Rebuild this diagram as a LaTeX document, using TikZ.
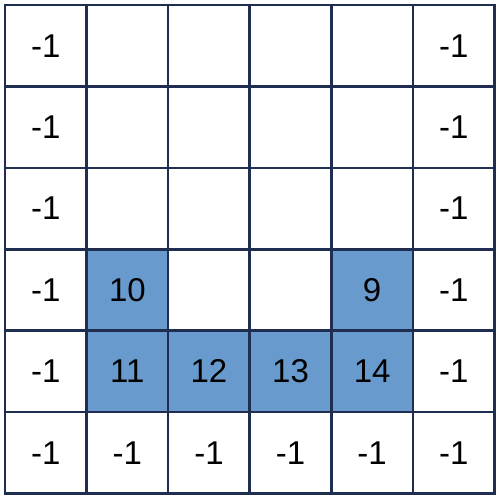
\documentclass[tikz,border=0pt]{standalone}
\usepackage{fontspec}
\setmainfont{Liberation Sans}
\definecolor{gridline}{RGB}{31,45,80}
\definecolor{cellblue}{RGB}{104,154,206}
\tikzset{
  cell/.style={draw=gridline, line width=2.6pt, rectangle, inner sep=0pt, outer sep=0pt,
    minimum width=81.58pt, minimum height=81.42pt, fill=white,
    font=\fontsize{33}{33}\selectfont, text=black},
  bluecell/.style={cell, fill=cellblue}
}
\begin{document}
\begin{tikzpicture}[x=1pt,y=1pt]
\useasboundingbox (0,0) rectangle (500,502);
\def\cw{81.58}
\def\ch{81.42}
% row index r from top (0..5), column c (0..5)
\foreach \r/\c/\t/\s in {
 0/0/-1/cell, 0/1//cell, 0/2//cell, 0/3//cell, 0/4//cell, 0/5/-1/cell,
 1/0/-1/cell, 1/1//cell, 1/2//cell, 1/3//cell, 1/4//cell, 1/5/-1/cell,
 2/0/-1/cell, 2/1//cell, 2/2//cell, 2/3//cell, 2/4//cell, 2/5/-1/cell,
 3/0/-1/cell, 3/1/10/bluecell, 3/2//cell, 3/3//cell, 3/4/9/bluecell, 3/5/-1/cell,
 4/0/-1/cell, 4/1/11/bluecell, 4/2/12/bluecell, 4/3/13/bluecell, 4/4/14/bluecell, 4/5/-1/cell,
 5/0/-1/cell, 5/1/-1/cell, 5/2/-1/cell, 5/3/-1/cell, 5/4/-1/cell, 5/5/-1/cell}{
  \node[\s] (c\r\c) at ({5+(\c+0.5)*\cw},{497-(\r+0.5)*\ch}) {\raisebox{-1.5pt}{\t}};
}
\end{tikzpicture}
\end{document}
